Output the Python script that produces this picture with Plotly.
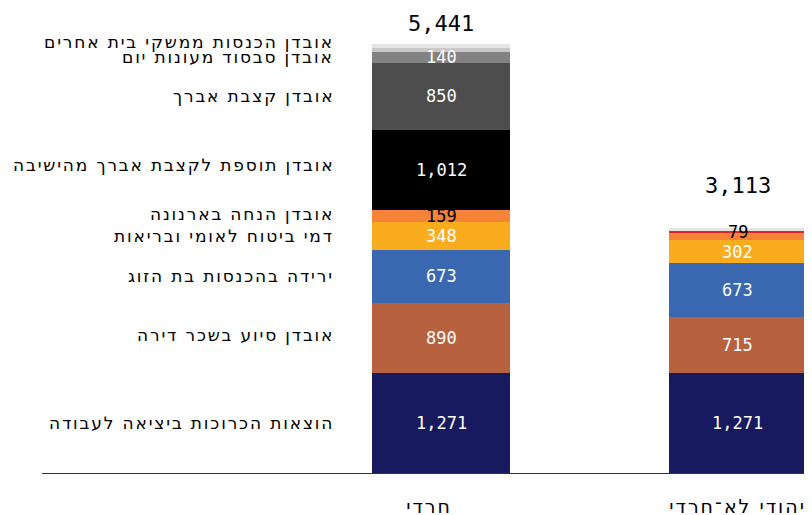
import plotly.graph_objects as go

categories = ["חרדי", "יהודי לא־חרדי"]
series_names = [
    "הוצאות הכרוכות ביציאה לעבודה",
    "אובדן סיוע בשכר דירה",
    "ירידה בהכנסות בת הזוג",
    "דמי ביטוח לאומי ובריאות",
    "אובדן הנחה בארנונה",
    "אובדן תוספת לקצבת אברך מהישיבה",
    "אובדן קצבת אברך",
    "אובדן סבסוד מעונות יום",
    "אחר",
    "אחר (לא־חרדי)",
    "אובדן הכנסות ממשקי בית אחרים",
]
haredi = [1271, 890, 673, 348, 159, 1012, 850, 140, 55, 0, 43]
non_haredi = [1271, 715, 673, 302, 79, 0, 0, 0, 0, 36, 37]
show_label_haredi = [True, True, True, True, True, True, True, True, False, False, False]
show_label_non = [True, True, True, True, True, False, False, False, False, False, False]
totals = [5441, 3113]
side_labels = [0, 1, 2, 3, 4, 5, 6, 7, 10]  # series labelled on the left

colors = ["#171a5f", "#b8613f", "#3a68b0", "#f9ac1e", "#f68338", "#000000",
          "#4d4d4d", "#828282", "#c8c8c8", "#d9262a", "#e4e4e4"]
text_colors = ["white", "white", "white", "white", "black", "white",
               "white", "white", "white", "white", "black"]
label_yshift = {0: 0, 1: 3, 2: 0, 3: 0, 4: 2, 5: 5, 6: 0, 7: 0, 10: 4}
value_yshift = [[0] * 11, [0, 0, 0, 0, 5, 0, 0, 0, 0, 0, 0]]
total_yshift = [6, 28]

FONT = "DejaVu Sans Mono, DejaVu Sans, monospace"
HEB = "DejaVu Sans, sans-serif"
xs = [0, 1]
W = 0.465

fig = go.Figure()
for i, name in enumerate(series_names):
    fig.add_trace(go.Bar(
        x=xs, y=[haredi[i], non_haredi[i]], width=[W, W], name=name,
        marker=dict(color=colors[i], line=dict(width=0)),
        showlegend=False, hoverinfo="skip"))

vals = [haredi, non_haredi]
shows = [show_label_haredi, show_label_non]
for b in range(2):
    cum = 0
    for i in range(len(series_names)):
        v = vals[b][i]
        if shows[b][i]:
            fig.add_annotation(x=xs[b], y=cum + v / 2, text=f"{v:,}", showarrow=False,
                               font=dict(family=FONT, size=17, color=text_colors[i]),
                               xanchor="center", yanchor="middle",
                               yshift=value_yshift[b][i])
        cum += v
    fig.add_annotation(x=xs[b], y=totals[b], text=f"{totals[b]:,}", showarrow=False,
                       font=dict(family=FONT, size=22, color="black"),
                       xanchor="center", yanchor="bottom", yshift=total_yshift[b])

cum = 0
centres = []
for i in range(len(series_names)):
    centres.append(cum + haredi[i] / 2)
    cum += haredi[i]
for i in side_labels:
    fig.add_annotation(xref="paper", x=0.382, y=centres[i], text=series_names[i],
                       showarrow=False, xanchor="right", yanchor="middle",
                       yshift=label_yshift[i],
                       font=dict(family=HEB, size=17, color="black"))

fig.update_layout(
    width=804, height=507, barmode="stack",
    margin=dict(l=34, r=0, t=0, b=42),
    paper_bgcolor="white", plot_bgcolor="white",
    xaxis=dict(range=[-1.346, 1.251], tickvals=xs,
               ticktext=[categories[0] + "\u00a0\u00a0\u00a0", categories[1]],
               showgrid=False, zeroline=False, showline=True, linecolor="#333333",
               linewidth=1, ticks="", ticklabelstandoff=16,
               tickfont=dict(family=HEB, size=19, color="black"), automargin=False),
    yaxis=dict(range=[0, 5901], visible=False, automargin=False),
)

# widen the Hebrew label lettering (letter-spacing) and re-measure the labels
post = """
var gd = document.getElementById('{plot_id}');
var s = document.createElement('style');
s.textContent = 'text.annotation-text[style*="sans-serif"] {letter-spacing: 1.85px;} .xtick text {letter-spacing: 2px;}';
document.head.appendChild(s);
var fam = 'DejaVu Sans, Verdana, sans-serif';
var upd = {'xaxis.tickfont.family': fam};
(gd.layout.annotations || []).forEach(function (a, k) {
  if (a.font && a.font.family && a.font.family.indexOf('sans-serif') >= 0) {
    upd['annotations[' + k + '].font.family'] = fam;
  }
});
Plotly.relayout(gd, upd);
"""

fig.write_html("out.html", post_script=post)
